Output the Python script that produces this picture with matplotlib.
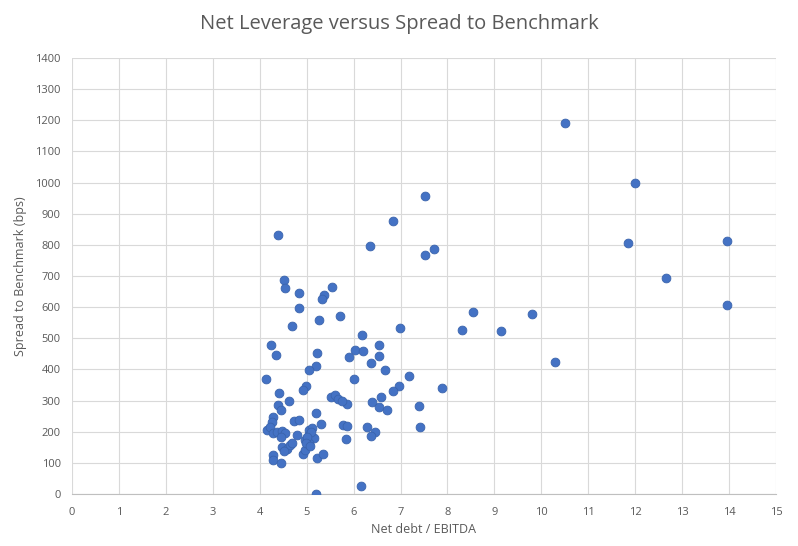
import matplotlib
matplotlib.use('Agg')
import matplotlib.pyplot as plt
import numpy as np

# net debt / EBITDA and spread to benchmark (bps)
net_leverage = [
    10.5, 12.0, 11.85, 13.95, 12.65, 13.95, 10.3, 9.8, 9.15, 8.55, 8.3,
    7.89, 7.4, 7.42, 7.18, 6.99, 7.72, 7.53, 7.53, 6.84, 6.34, 4.38, 5.2, 6.15,
    5.71, 6.18, 6.55, 6.04, 6.21, 6.55, 5.90, 6.37, 6.68, 6.00, 6.96, 6.85,
    6.58, 5.86, 6.40, 6.55, 6.72, 5.78, 5.87, 6.28, 6.45, 6.37, 5.84,
    4.51, 4.54, 4.84, 5.54, 5.36, 5.32, 4.84, 5.27, 4.68, 5.23, 5.19, 5.05,
    4.24, 4.35, 4.14, 4.99, 4.92, 4.41, 4.63, 4.38, 4.46, 5.52, 5.61, 5.66,
    5.76, 5.19, 4.29, 4.26, 4.73, 4.83, 5.31, 4.15, 4.22, 4.28, 4.36, 4.47,
    4.54, 4.45, 5.04, 5.11, 5.06, 5.15, 4.97, 5.06, 4.80, 4.47, 4.58, 4.65,
    4.68, 4.51, 4.28, 4.29, 4.45, 4.92, 4.97, 5.22, 5.35, 5.09, 5.00, 4.99,
    5.07,
]
spread_bps = [
    1190, 1000, 805, 812, 692, 607, 425, 578, 522, 583, 527,
    341, 284, 214, 378, 533, 788, 767, 958, 875, 796, 833, 0, 25,
    572, 510, 477, 463, 459, 444, 440, 422, 398, 370, 347, 332,
    312, 289, 294, 280, 270, 222, 219, 214, 199, 187, 176,
    686, 661, 647, 665, 640, 626, 596, 558, 538, 453, 412, 397,
    479, 445, 370, 348, 334, 324, 299, 286, 270, 311, 318, 304,
    299, 261, 247, 232, 235, 238, 224, 206, 214, 195, 200, 203,
    195, 182, 206, 211, 190, 181, 174, 163, 190, 152, 146, 158,
    163, 138, 125, 109, 101, 129, 141, 115, 129, 200, 184, 163,
    154,
]

x_ticks = np.arange(0, 16, 1)
y_ticks = np.arange(0, 1500, 100)

plt.rcParams['font.family'] = ['Open Sans', 'DejaVu Sans']

fig = plt.figure(figsize=(7.98, 5.46), dpi=100)
ax = fig.add_axes([0.0902, 0.0952, 0.8822, 0.7986])

ax.scatter(net_leverage, spread_bps, s=40, color='#4472c4',
           edgecolors='#3a64ad', linewidths=0.6, zorder=3)

ax.set_xlim(0, 15)
ax.set_ylim(0, 1400)
ax.set_xticks(x_ticks)
ax.set_yticks(y_ticks)
ax.grid(True, color='#d9d9d9', linewidth=0.8)
ax.set_axisbelow(True)

for side in ['top', 'right', 'left']:
    ax.spines[side].set_visible(False)
ax.spines['bottom'].set_color('#bfbfbf')

ax.tick_params(axis='both', length=0, labelsize=8, labelcolor='#595959')
ax.tick_params(axis='x', pad=9)
ax.tick_params(axis='y', pad=8)

ax.set_xlabel('Net debt / EBITDA', fontsize=9, color='#595959', labelpad=4)
ax.set_ylabel('Spread to Benchmark (bps)', fontsize=9, color='#595959', labelpad=6)
fig.suptitle('Net Leverage versus Spread to Benchmark', fontsize=14.5,
             color='#595959', y=0.975)

fig.savefig('out.png', dpi=100, facecolor='white')
